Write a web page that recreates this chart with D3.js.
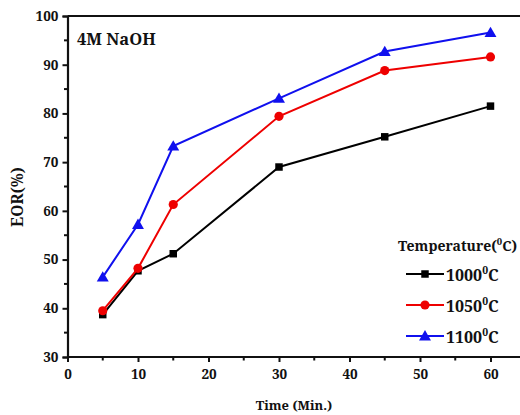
<!DOCTYPE html>
<html>
<head>
<meta charset="utf-8">
<script src="https://cdn.jsdelivr.net/npm/d3@7"></script>
<style>
  html, body { margin: 0; padding: 0; background: #fff; }
  svg { display: block; }
  svg text { font-family: "Noto Serif", "Liberation Serif", serif; font-weight: bold; fill: #111; }
</style>
</head>
<body>
<svg id="chart" width="520" height="415"></svg>
<script>
// Extraction time (min) and EOR (%) at each furnace temperature
const times = [5, 10, 15, 30, 45, 60];
const eor1000 = [38.7, 47.7, 51.2, 69.0, 75.2, 81.5];
const eor1050 = [39.5, 48.2, 61.3, 79.4, 88.8, 91.6];
const eor1100 = [46.4, 57.2, 73.3, 83.1, 92.7, 96.6];
const seriesNames = ["1000", "1050", "1100"];
const xTicks = [0, 10, 20, 30, 40, 50, 60];
const yTicks = [30, 40, 50, 60, 70, 80, 90, 100];

const series = [
  { name: seriesNames[0], values: eor1000, color: "#000000", shape: "square" },
  { name: seriesNames[1], values: eor1050, color: "#ee0000", shape: "circle" },
  { name: seriesNames[2], values: eor1100, color: "#1010ee", shape: "triangle" }
];

const serif = "'Noto Serif', 'Liberation Serif', serif";
const svg = d3.select("#chart");
const plotLeft = 67.5, plotTop = 16, plotBottom = 357;
const x = d3.scaleLinear().domain([0, 65]).range([plotLeft, plotLeft + 65 * 7.05]);
const y = d3.scaleLinear().domain([30, 100]).range([plotBottom, plotTop]);

// Frame
svg.append("line").attr("x1", plotLeft).attr("x2", 540).attr("y1", plotTop).attr("y2", plotTop)
  .attr("stroke", "#111").attr("stroke-width", 2.2);

// Axes with major ticks and minor mid ticks
const xAxis = d3.axisBottom(x).tickValues(xTicks).tickSize(5).tickPadding(7).tickFormat(d3.format("d"));
const yAxis = d3.axisLeft(y).tickValues(yTicks).tickSize(5).tickPadding(4).tickFormat(d3.format("d"));

const gx = svg.append("g").attr("transform", `translate(0,${plotBottom})`).call(xAxis);
const gy = svg.append("g").attr("transform", `translate(${plotLeft},0)`).call(yAxis);
[gx, gy].forEach(g => {
  g.attr("font-family", serif).attr("font-size", 13.5);
  g.select(".domain").attr("stroke", "#111").attr("stroke-width", 2.2);
  g.selectAll(".tick line").attr("stroke", "#111").attr("stroke-width", 2);
  g.selectAll(".tick text").attr("fill", "#111");
});
gx.select(".domain").attr("d", `M${plotLeft},0H540`);

const xMinor = d3.range(5, 66, 10);
gx.selectAll(".minor").data(xMinor).enter().append("line")
  .attr("x1", d => x(d)).attr("x2", d => x(d)).attr("y1", 0).attr("y2", 3.5)
  .attr("stroke", "#111").attr("stroke-width", 2);
const yMinor = d3.range(35, 100, 10);
gy.selectAll(".minor").data(yMinor).enter().append("line")
  .attr("y1", d => y(d)).attr("y2", d => y(d)).attr("x1", 0).attr("x2", -3.5)
  .attr("stroke", "#111").attr("stroke-width", 2);

// Axis titles and annotation
svg.append("text").attr("x", 294).attr("y", 410).attr("text-anchor", "middle")
  .attr("font-size", 13).text("Time (Min.)");
svg.append("text").attr("transform", "translate(23,197) rotate(-90)").attr("text-anchor", "middle")
  .attr("font-size", 15.5).text("EOR(%)");
svg.append("text").attr("x", 77).attr("y", 45).attr("font-size", 16.5).text("4M NaOH");

// Markers
const symbolFor = { square: d3.symbolSquare, circle: d3.symbolCircle, triangle: d3.symbolTriangle };
const sizeFor = { square: 56, circle: 66, triangle: 62 };
function marker(g, s, cx, cy) {
  g.append("path")
    .attr("d", d3.symbol().type(symbolFor[s.shape]).size(sizeFor[s.shape])())
    .attr("transform", `translate(${cx},${cy + (s.shape === "triangle" ? 1 : 0)})`)
    .attr("fill", s.color);
}

const line = d3.line().x(d => x(d[0])).y(d => y(d[1]));
series.forEach(s => {
  const pts = times.map((t, i) => [t, s.values[i]]);
  const g = svg.append("g");
  g.append("path").datum(pts).attr("d", line).attr("fill", "none")
    .attr("stroke", s.color).attr("stroke-width", 2);
  pts.forEach(p => marker(g, s, x(p[0]), y(p[1])));
});

// Legend
const lg = svg.append("g");
const legTitle = lg.append("text").attr("x", 398).attr("y", 251).attr("font-size", 14);
legTitle.append("tspan").text("Temperature(");
legTitle.append("tspan").attr("dy", -6).attr("font-size", 9.5).text("0");
legTitle.append("tspan").attr("dy", 6).text("C)");

series.forEach((s, i) => {
  const cy = 274 + i * 31;
  lg.append("line").attr("x1", 406).attr("x2", 444).attr("y1", cy).attr("y2", cy)
    .attr("stroke", s.color).attr("stroke-width", 2);
  marker(lg, s, 425, cy);
  const t = lg.append("text").attr("x", 446).attr("y", cy + 7).attr("font-size", 16);
  t.append("tspan").text(s.name);
  t.append("tspan").attr("dy", -7).attr("font-size", 10.5).text("0");
  t.append("tspan").attr("dy", 7).text("C");
});
</script>
</body>
</html>
